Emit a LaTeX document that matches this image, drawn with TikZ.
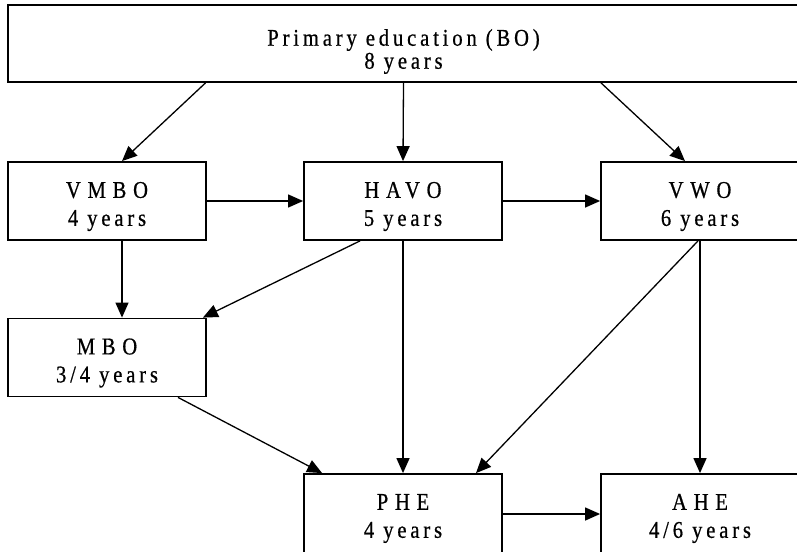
\documentclass[tikz,border=0pt]{standalone}
\usepackage{fontspec}
\setmainfont{Liberation Serif}
\newfontfamily\lowsp[LetterSpace=16,FakeStretch=0.86,FakeBold=0.6]{Liberation Serif}
\newfontfamily\capsp[LetterSpace=28,FakeStretch=0.86,FakeBold=0.6]{Liberation Serif}
\usetikzlibrary{arrows.meta}
\begin{document}
\begin{tikzpicture}[x=1pt,y=-1pt,
  box/.style={draw,line width=1.8pt,rectangle,minimum width=198pt,minimum height=78pt},
  txt/.style={align=center,inner sep=0pt,font=\fontsize{24}{28}\selectfont},
  arr/.style={line width=1.3pt,-{Triangle[length=15pt,width=13pt]}}]
\useasboundingbox (0,0) rectangle (797,551);
\clip (0,0) rectangle (797,551);
\node[box,minimum width=791pt,minimum height=77pt] (top) at (403.5,43.5) {};
\node[txt,font=\fontsize{24}{23}\selectfont] (toptext) at (403.5,51.5) {\lowsp Primary education (BO)\\\lowsp 8 years};
\node[box,label={[txt,yshift=-5.5pt]center:\capsp VMBO\\\lowsp 4 years}] (vmbo) at (107,201) {};
\node[box,label={[txt,yshift=-5.5pt]center:\capsp HAVO\\\lowsp 5 years}] (havo) at (403,201) {};
\node[box,label={[txt,yshift=-5.5pt]center:\capsp VWO\\\lowsp 6 years}] (vwo) at (700,201) {};
\node[box,label={[txt,yshift=-5.5pt]center:\capsp MBO\\\lowsp 3/4 years}] (mbo) at (107,357.5) {};
\node[box,minimum height=82pt,label={[txt,yshift=-3.5pt]center:\capsp PHE\\\lowsp 4 years}] (phe) at (403,515) {};
\node[box,minimum height=82pt,label={[txt,yshift=-3.5pt]center:\capsp AHE\\\lowsp 4/6 years}] (ahe) at (700,515) {};
\draw[arr] ([xshift=-198pt]top.south) -- ([xshift=15pt]vmbo.north);
\draw[arr] (top.south) -- (havo.north);
\draw[arr] ([xshift=197.5pt]top.south) -- ([xshift=-15pt]vwo.north);
\draw[arr] (vmbo.east) -- (havo.west);
\draw[arr] (havo.east) -- (vwo.west);
\draw[arr] ([xshift=15pt]vmbo.south) -- ([xshift=15pt]mbo.north);
\draw[arr] ([xshift=-43pt]havo.south) -- ([xshift=-4pt]mbo.north east);
\draw[arr] ([xshift=71pt]mbo.south) -- ([xshift=19pt]phe.north west);
\draw[arr] (havo.south) -- (phe.north);
\draw[arr] ([xshift=-2pt]vwo.south) -- ([xshift=73pt]phe.north);
\draw[arr] (vwo.south) -- (ahe.north);
\draw[arr] ([yshift=1pt]phe.east) -- ([yshift=1pt]ahe.west);
\end{tikzpicture}
\end{document}
